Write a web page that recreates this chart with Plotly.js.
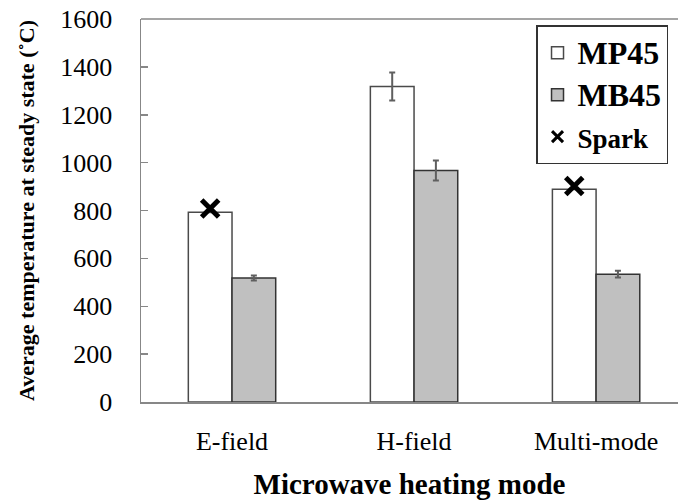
<!DOCTYPE html>
<html>
<head>
<meta charset="utf-8">
<script src="https://cdn.plot.ly/plotly-3.0.1.min.js"></script>
<style>
  html, body { margin: 0; padding: 0; background: #ffffff; }
  #chart { width: 678px; height: 504px; }
</style>
</head>
<body>
<div id="chart"></div>
<script>
// Heating modes and steady-state temperatures (°C)
const modes = ['E-field', 'H-field', 'Multi-mode'];
const mp45Temp = [793, 1318, 889];
const mp45Err = [0, 58, 0];
const mb45Temp = [518, 967, 534];
const mb45Err = [10, 42, 14];
// Sparking observed on MP45 (temperature at which the spark was recorded)
const sparkTemp = [808, null, 902];
const yTicks = [0, 200, 400, 600, 800, 1000, 1200, 1400, 1600];

const serif = '"Liberation Serif", "Times New Roman", serif';
const barGap = 0.52;
const idx = modes.map((_, i) => i);
// MP45 is the left bar of each pair: centre sits a quarter group-width left of the category
const sparkX = idx.map(i => i - (1 - barGap) / 4);

const traces = [
  {
    type: 'bar', name: '<span style="font-size:32px"><b>MP45</b></span>', x: idx, y: mp45Temp,
    marker: { color: '#ffffff', line: { color: '#4a4a4a', width: 1.5 } },
    error_y: { type: 'data', array: mp45Err, visible: true, color: '#5f5f5f', thickness: 2, width: 3 }
  },
  {
    type: 'bar', name: '<span style="font-size:32px"><b>MB45</b></span>', x: idx, y: mb45Temp,
    marker: { color: '#c0c0c0', line: { color: '#333333', width: 1.5 } },
    error_y: { type: 'data', array: mb45Err, visible: true, color: '#5f5f5f', thickness: 2, width: 3 }
  },
  {
    type: 'scatter', mode: 'markers', showlegend: false,
    x: sparkX, y: sparkTemp,
    marker: { symbol: 'x-thin', size: 17, color: '#000000', line: { color: '#000000', width: 5 } }
  },
  // legend key for the spark marks (smaller cross than on the plot)
  {
    type: 'scatter', mode: 'markers', name: '<span style="font-size:27px"><b>Spark</b></span>',
    x: [null], y: [null],
    marker: { symbol: 'x-thin', size: 11, color: '#000000', line: { color: '#000000', width: 3 } }
  }
];

const layout = {
  width: 678, height: 504,
  margin: { l: 141, r: 0, t: 19, b: 102, pad: 0 },
  paper_bgcolor: '#ffffff', plot_bgcolor: '#ffffff',
  barmode: 'group', bargap: barGap, bargroupgap: 0,
  showlegend: true,
  font: { family: serif, color: '#000000' },
  xaxis: {
    range: [-0.5, 2.45],
    tickmode: 'array', tickvals: idx, ticktext: modes,
    ticks: '', showgrid: false, zeroline: false,
    showline: true, linecolor: '#878787', linewidth: 1.5,
    tickfont: { family: serif, size: 26, color: '#000000' },
    ticklabelstandoff: 15,
    title: { text: '<b>Microwave heating mode</b>', font: { family: serif, size: 29, color: '#000000' }, standoff: 19 }
  },
  yaxis: {
    range: [0, 1600],
    tickmode: 'array', tickvals: yTicks, ticktext: yTicks.map(String),
    ticks: 'inside', ticklen: 7, tickwidth: 1.5, tickcolor: '#878787',
    showgrid: false, zeroline: false,
    showline: true, linecolor: '#878787', linewidth: 1.5,
    tickfont: { family: serif, size: 26, color: '#000000' },
    ticklabelstandoff: 22,
    title: { text: '<b>Average temperature at steady state (˚C)</b>', font: { family: serif, size: 22, color: '#000000' }, standoff: 19 }
  },
  legend: {
    x: 0.7356, y: 0.984, xanchor: 'left', yanchor: 'top',
    bgcolor: '#ffffff', bordercolor: '#333333', borderwidth: 1.5,
    font: { family: serif, size: 30, color: '#000000' },
    tracegroupgap: 0, itemwidth: 30
  },
  shapes: [
    { type: 'line', xref: 'paper', yref: 'paper', x0: 0, x1: 1, y0: 1, y1: 1,
      line: { color: '#878787', width: 1.5 } }
  ]
};

Plotly.newPlot('chart', traces, layout, { displayModeBar: false, staticPlot: true });
</script>
</body>
</html>
